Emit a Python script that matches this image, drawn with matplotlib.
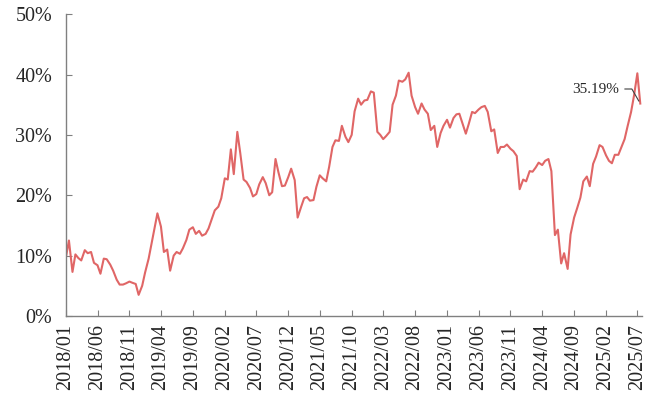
import pandas as pd
import matplotlib
matplotlib.use('Agg')
import matplotlib.pyplot as plt
from matplotlib.ticker import FuncFormatter

plt.rcParams['font.family'] = ['Liberation Serif', 'DejaVu Serif']

# semi-monthly values (%), starting 2018/01
share = [
    9.8, 12.5, 7.3, 10.2, 9.6, 9.2, 10.9, 10.4, 10.6, 8.8, 8.4, 7.0,
    9.5, 9.4, 8.5, 7.5, 6.0, 5.2, 5.2, 5.4, 5.7, 5.5, 5.3, 3.5,
    5.0, 7.2, 9.5, 12.0, 14.5, 17.0, 14.8, 10.6, 11.0, 7.5, 10.0, 10.6,
    10.3, 11.2, 12.6, 14.3, 14.7, 13.6, 14.1, 13.3, 13.6, 14.5, 16.1, 17.5,
    18.1, 19.5, 22.8, 22.6, 27.6, 23.5, 30.5, 27.0, 22.6, 22.2, 21.2, 19.8,
    20.2, 21.8, 23.0, 22.0, 20.0, 20.5, 26.0, 23.8, 21.5, 21.6, 23.0, 24.4,
    22.5, 16.3, 18.1, 19.5, 19.7, 19.1, 19.2, 21.4, 23.3, 22.8, 22.3, 24.7,
    28.0, 29.1, 29.0, 31.5, 29.7, 28.8, 30.0, 33.9, 36.0, 35.0, 35.7, 35.8,
    37.2, 37.0, 30.5, 30.0, 29.3, 29.8, 30.5, 35.0, 36.5, 39.0, 38.8, 39.2,
    40.3, 36.5, 34.6, 33.5, 35.2, 34.2, 33.5, 30.8, 31.5, 28.0, 30.3, 31.5,
    32.5, 31.2, 32.8, 33.4, 33.5, 32.0, 30.2, 31.8, 33.8, 33.6, 34.2, 34.6,
    34.8, 33.8, 30.6, 30.9, 27.0, 28.0, 28.0, 28.4, 27.7, 27.3, 26.5, 21.0,
    22.6, 22.3, 24.0, 23.9, 24.6, 25.4, 25.0, 25.7, 26.0, 24.0, 13.4, 14.3,
    8.7, 10.4, 7.8, 13.5, 16.3, 17.8, 19.6, 22.3, 23.1, 21.5, 25.2, 26.4,
    28.3, 28.0, 26.6, 25.7, 25.3, 26.7, 26.7, 27.9, 29.3, 31.4, 33.8, 36.5,
    40.2, 35.19,
]
dates = pd.date_range('2018-01-01', periods=len(share), freq='SMS')

tick_dates = pd.date_range('2018-01-01', '2025-07-01', freq='5MS')
tick_labels = [d.strftime('%Y/%m') for d in tick_dates]

fig = plt.figure(figsize=(6.51, 3.93), dpi=100)
ax = fig.add_axes([0.1014, 0.196, 0.885, 0.768])

ax.plot(dates, share, color='#E06666', lw=1.5)

ax.set_ylim(0, 50)
ax.set_yticks([0, 10, 20, 30, 40, 50])
ax.yaxis.set_major_formatter(FuncFormatter(lambda v, p: '%d%%' % v))
ax.set_xlim(pd.Timestamp('2018-01-01'), pd.Timestamp('2025-07-24'))
ax.set_xticks(tick_dates)
ax.set_xticklabels(tick_labels, rotation=90)

for s in ['top', 'right']:
    ax.spines[s].set_visible(False)
for s in ['left', 'bottom']:
    ax.spines[s].set_color('#808080')
    ax.spines[s].set_linewidth(1.0)
ax.tick_params(axis='both', direction='in', length=4.5, color='#808080',
               labelsize=14.5, labelcolor='#262626')
ax.tick_params(axis='y', pad=10)
ax.tick_params(axis='x', pad=6)

ax.annotate('%.2f%%' % share[-1], xy=(dates[-1], share[-1]),
            xytext=(pd.Timestamp('2025-04-05'), 37.6), ha='right', va='center',
            fontsize=11, color='#262626',
            arrowprops=dict(arrowstyle='-', color='#404040', lw=0.8,
                            connectionstyle='angle,angleA=0,angleB=120,rad=0'))

fig.savefig('out.png', dpi=100)
